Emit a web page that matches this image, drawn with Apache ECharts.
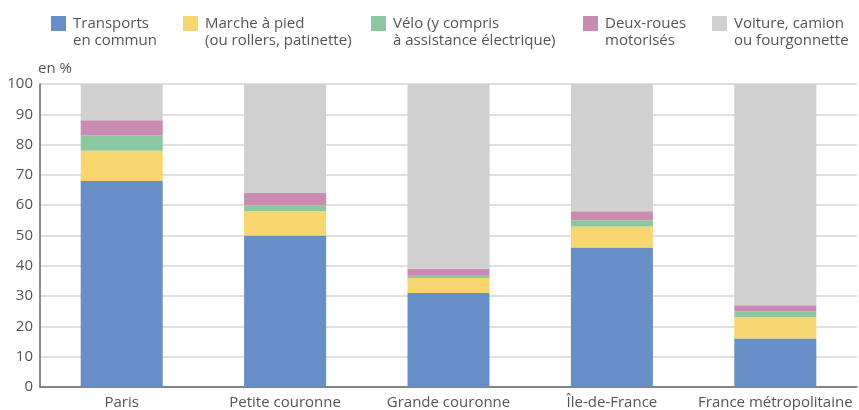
<!DOCTYPE html>
<html><head><meta charset="utf-8">
<script src="https://cdn.jsdelivr.net/npm/echarts@6/dist/echarts.min.js"></script>
<style>html,body{margin:0;padding:0;background:#fff}#c{width:859px;height:410px}</style>
</head><body><div id="c"></div>
<script>
const categories = ['Paris', 'Petite couronne', 'Grande couronne', 'Île-de-France', 'France métropolitaine'];
const seriesNames = ['Transports\nen commun', 'Marche à pied\n(ou rollers, patinette)', 'Vélo (y compris\nà assistance électrique)', 'Deux-roues\nmotorisés', 'Voiture, camion\nou fourgonnette'];
const transports = [68, 50, 31, 46, 16];
const marche = [10, 8, 5, 7, 7];
const velo = [5, 2, 1, 2, 2];
const deuxRoues = [5, 4, 2, 3, 2];
const voiture = [12, 36, 61, 42, 73];
const yTicks = [0, 10, 20, 30, 40, 50, 60, 70, 80, 90, 100];

const colors = ['#678fc7', '#f8d66e', '#8bc8a0', '#c98bb2', '#d0d0d0'];
const values = [transports, marche, velo, deuxRoues, voiture];
const legendLefts = [51, 183, 371, 583, 712];
const font = '"Open Sans", sans-serif';

const chart = echarts.init(document.getElementById('c'), null, {renderer: 'canvas'});
chart.setOption({
  animation: false,
  color: colors,
  legend: seriesNames.map((n, i) => ({
    data: [n],
    left: legendLefts[i],
    top: 14,
    padding: 0,
    itemWidth: 15,
    itemHeight: 37,
    itemGap: 8,
    icon: 'path://M0,0L15,0Z M0,2H15V17H0Z M0,37L15,37Z',
    textStyle: {fontFamily: font, fontSize: 15, color: '#555', lineHeight: 17, padding: [0, 0, 0, 2]}
  })),
  grid: {left: 40, right: 2, top: 84, bottom: 23, containLabel: false},
  xAxis: {
    type: 'category',
    data: categories,
    axisTick: {show: false},
    axisLine: {lineStyle: {color: '#666', width: 1.5}},
    axisLabel: {fontFamily: font, fontSize: 15, color: '#555', margin: 8, interval: 0}
  },
  yAxis: {
    type: 'value',
    min: yTicks[0], max: yTicks[yTicks.length - 1], interval: 10,
    name: 'en %',
    nameLocation: 'end',
    nameGap: 8,
    nameTextStyle: {fontFamily: font, fontSize: 15, color: '#555', align: 'left', padding: [0, 0, 0, -2]},
    axisLine: {show: true, lineStyle: {color: '#666', width: 1.5}},
    axisTick: {show: false},
    axisLabel: {fontFamily: font, fontSize: 15, color: '#555', margin: 7},
    splitLine: {lineStyle: {color: '#d6d6d6', width: 1.5}}
  },
  series: seriesNames.map((n, i) => ({
    name: n,
    type: 'bar',
    stack: 'total',
    barWidth: 82,
    data: values[i],
    itemStyle: {color: colors[i]}
  }))
});
</script></body></html>
